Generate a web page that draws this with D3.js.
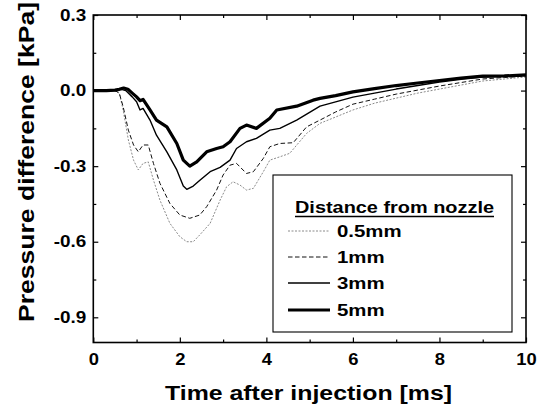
<!DOCTYPE html>
<html>
<head>
<meta charset="utf-8">
<script src="https://cdn.jsdelivr.net/npm/d3@7"></script>
<style>
html,body{margin:0;padding:0;background:#fff;}
svg{display:block;}
text{font-family:"Liberation Sans",Arial,Helvetica,sans-serif;font-weight:bold;fill:#000;}
</style>
</head>
<body>
<svg id="chart" width="547" height="406"></svg>
<script>
// ---- data ----
const xTicks = [0, 2, 4, 6, 8, 10];
const xMinor = [1, 3, 5, 7, 9];
const yTicks = [0.3, 0.0, -0.3, -0.6, -0.9];
const yMinor = [0.15, -0.15, -0.45, -0.75];
const yTickLabels = ["0.3", "0.0", "-0.3", "-0.6", "-0.9"];

const seriesNames = ["0.5mm", "1mm", "3mm", "5mm"];

const t05 = [0,0.5,0.6,0.69,0.81,0.93,1.04,1.15,1.27,1.39,1.54,1.77,2.0,2.16,2.31,2.46,2.7,2.93,3.08,3.23,3.39,3.54,3.7,3.93,4.08,4.31,4.54,4.93,5.24,5.6,6,6.5,7,7.5,8,8.5,9,9.5,10];
const v05 = [0,0,-0.01,-0.077,-0.196,-0.276,-0.315,-0.289,-0.283,-0.355,-0.435,-0.527,-0.58,-0.6,-0.6,-0.573,-0.527,-0.435,-0.382,-0.362,-0.375,-0.395,-0.388,-0.322,-0.276,-0.263,-0.249,-0.17,-0.13,-0.105,-0.077,-0.05,-0.03,-0.01,0.006,0.022,0.038,0.046,0.054];

const t1 = [0,0.5,0.6,0.69,0.81,0.93,1.04,1.15,1.27,1.39,1.54,1.77,2.0,2.23,2.46,2.62,2.85,3.0,3.16,3.31,3.54,3.7,3.93,4.08,4.31,4.62,4.93,5.24,5.6,6,6.5,7,7.5,8,8.5,9,9.5,10];
const v1 = [0,0,-0.01,-0.064,-0.157,-0.216,-0.243,-0.216,-0.216,-0.289,-0.368,-0.448,-0.494,-0.507,-0.494,-0.461,-0.395,-0.335,-0.296,-0.289,-0.329,-0.322,-0.269,-0.223,-0.21,-0.207,-0.144,-0.117,-0.085,-0.054,-0.034,-0.014,0.002,0.018,0.032,0.046,0.052,0.058];

const t3 = [0,0.5,0.65,0.75,0.9,1.0,1.08,1.15,1.31,1.46,1.7,1.93,2.08,2.16,2.31,2.47,2.7,2.93,3.16,3.31,3.54,3.77,4.08,4.31,4.7,5.24,5.6,6,6.5,7,7.5,8,8.5,9,9.5,10];
const v3 = [0,0,0.005,0,-0.025,-0.044,-0.077,-0.071,-0.117,-0.177,-0.243,-0.315,-0.379,-0.392,-0.379,-0.355,-0.322,-0.305,-0.276,-0.23,-0.203,-0.19,-0.157,-0.15,-0.117,-0.062,-0.045,-0.026,-0.01,0.006,0.02,0.034,0.045,0.054,0.057,0.06];

const t5 = [0,0.3,0.5,0.6,0.7,0.8,0.9,1.0,1.08,1.15,1.31,1.46,1.7,1.93,2.08,2.23,2.39,2.62,2.85,3.0,3.16,3.39,3.54,3.77,4.08,4.24,4.7,5.08,5.24,5.6,6,6.5,7,7.5,8,8.5,9,9.5,10];
const v5 = [0,0,0.002,0.005,0.01,0.005,-0.01,-0.025,-0.04,-0.035,-0.077,-0.117,-0.144,-0.21,-0.276,-0.3,-0.283,-0.243,-0.23,-0.223,-0.203,-0.15,-0.137,-0.15,-0.11,-0.077,-0.062,-0.038,-0.031,-0.02,-0.005,0.008,0.02,0.03,0.04,0.05,0.057,0.058,0.062];

const seriesT = [t05, t1, t3, t5];
const seriesV = [v05, v1, v3, v5];

// ---- styles ----
const styles = [
  {stroke:"#8a8a8a", width:1, dash:"2,1.5"},
  {stroke:"#111", width:1, dash:"4.5,2.5"},
  {stroke:"#000", width:1.4, dash:null},
  {stroke:"#000", width:3.2, dash:null}
];

const svg = d3.select("#chart");
const L = 93.3, R = 526, T = 15, B = 342.5;
const x = d3.scaleLinear().domain([0, 10]).range([L, R]);
const y = d3.scaleLinear().domain([-1.0, 0.3]).range([B, T]);

function stretch(sel, k) {
  sel.each(function(){
    const w = this.getComputedTextLength();
    d3.select(this).attr("textLength", w * k).attr("lengthAdjust", "spacingAndGlyphs");
  });
}

const plot = svg.append("g");
plot.append("defs").append("clipPath").attr("id","clip")
  .append("rect").attr("x", L).attr("y", T).attr("width", R - L).attr("height", B - T);

// curves
const line = d3.line().x(d => x(d[0])).y(d => y(d[1]));
const curves = plot.append("g").attr("clip-path", "url(#clip)");
seriesT.forEach((ts, i) => {
  const pts = ts.map((t, j) => [t, seriesV[i][j]]);
  curves.append("path").datum(pts)
    .attr("d", line)
    .attr("fill", "none")
    .attr("stroke", styles[i].stroke)
    .attr("stroke-width", styles[i].width)
    .attr("stroke-dasharray", styles[i].dash)
    .attr("stroke-linejoin", "round");
});

// axes (ticks inward, mirrored)
const axB = d3.axisBottom(x).tickValues(xTicks).tickSizeInner(-5).tickSizeOuter(0).tickPadding(10).tickFormat(d3.format("d"));
const axBm = d3.axisBottom(x).tickValues(xMinor).tickSizeInner(-3).tickSizeOuter(0).tickFormat("");
const axT = d3.axisTop(x).tickValues(xTicks).tickSizeInner(-5).tickSizeOuter(0).tickFormat("");
const axTm = d3.axisTop(x).tickValues(xMinor).tickSizeInner(-3).tickSizeOuter(0).tickFormat("");
const axL = d3.axisLeft(y).tickValues(yTicks).tickSizeInner(-5).tickSizeOuter(0).tickPadding(7)
  .tickFormat((d, i) => yTickLabels[i]);
const axLm = d3.axisLeft(y).tickValues(yMinor).tickSizeInner(-3).tickSizeOuter(0).tickFormat("");
const axR = d3.axisRight(y).tickValues(yTicks).tickSizeInner(-5).tickSizeOuter(0).tickFormat("");
const axRm = d3.axisRight(y).tickValues(yMinor).tickSizeInner(-3).tickSizeOuter(0).tickFormat("");

function styleAxis(g) {
  g.select(".domain").remove();
  g.selectAll(".tick line").attr("stroke", "#000").attr("stroke-width", 1.2);
  g.selectAll("text").attr("font-family", null).attr("font-size", null)
    .style("font-size", "16px").style("font-weight", "bold").attr("fill", "#000");
}
const gB = svg.append("g").attr("transform", `translate(0,${B})`).call(axB).call(styleAxis);
svg.append("g").attr("transform", `translate(0,${B})`).call(axBm).call(styleAxis);
svg.append("g").attr("transform", `translate(0,${T})`).call(axT).call(styleAxis);
svg.append("g").attr("transform", `translate(0,${T})`).call(axTm).call(styleAxis);
const gL = svg.append("g").attr("transform", `translate(${L},0)`).call(axL).call(styleAxis);
svg.append("g").attr("transform", `translate(${L},0)`).call(axLm).call(styleAxis);
svg.append("g").attr("transform", `translate(${R},0)`).call(axR).call(styleAxis);
svg.append("g").attr("transform", `translate(${R},0)`).call(axRm).call(styleAxis);
gB.selectAll("text").style("font-size", "17px");
stretch(gB.selectAll("text"), 1.08);
stretch(gL.selectAll("text"), 1.18);

// frame
svg.append("rect").attr("x", L).attr("y", T).attr("width", R - L).attr("height", B - T)
  .attr("fill", "none").attr("stroke", "#000").attr("stroke-width", 1.6);

// axis titles
const xt = svg.append("text").attr("x", (165 + 452) / 2).attr("y", 400)
  .attr("text-anchor", "middle").style("font-size", "20px")
  .text("Time after injection [ms]");
xt.attr("textLength", 287).attr("lengthAdjust", "spacingAndGlyphs");
const yt = svg.append("text").attr("transform", "translate(34,162) rotate(-90)")
  .attr("text-anchor", "middle").style("font-size", "22px")
  .text("Pressure difference [kPa]");
yt.attr("textLength", 320).attr("lengthAdjust", "spacingAndGlyphs");

// legend
const lg = svg.append("g");
lg.append("rect").attr("x", 273).attr("y", 175).attr("width", 239).attr("height", 157)
  .attr("fill", "#fff").attr("stroke", "#000").attr("stroke-width", 1.1);
const lt = lg.append("text").attr("x", 295).attr("y", 213).style("font-size", "16.5px")
  .text("Distance from nozzle");
lt.attr("textLength", 199).attr("lengthAdjust", "spacingAndGlyphs");
lg.append("line").attr("x1", 295).attr("x2", 494).attr("y1", 216.5).attr("y2", 216.5)
  .attr("stroke", "#000").attr("stroke-width", 1.5);
const legY = [237, 263, 289, 316];
seriesNames.forEach((name, i) => {
  lg.append("line").attr("x1", 288).attr("x2", 330)
    .attr("y1", legY[i] - 6).attr("y2", legY[i] - 6)
    .attr("stroke", styles[i].stroke).attr("stroke-width", styles[i].width)
    .attr("stroke-dasharray", styles[i].dash);
  const tx = lg.append("text").attr("x", 337).attr("y", legY[i]).style("font-size", "17px").text(name);
  stretch(tx, 1.2);
});
</script>
</body>
</html>
